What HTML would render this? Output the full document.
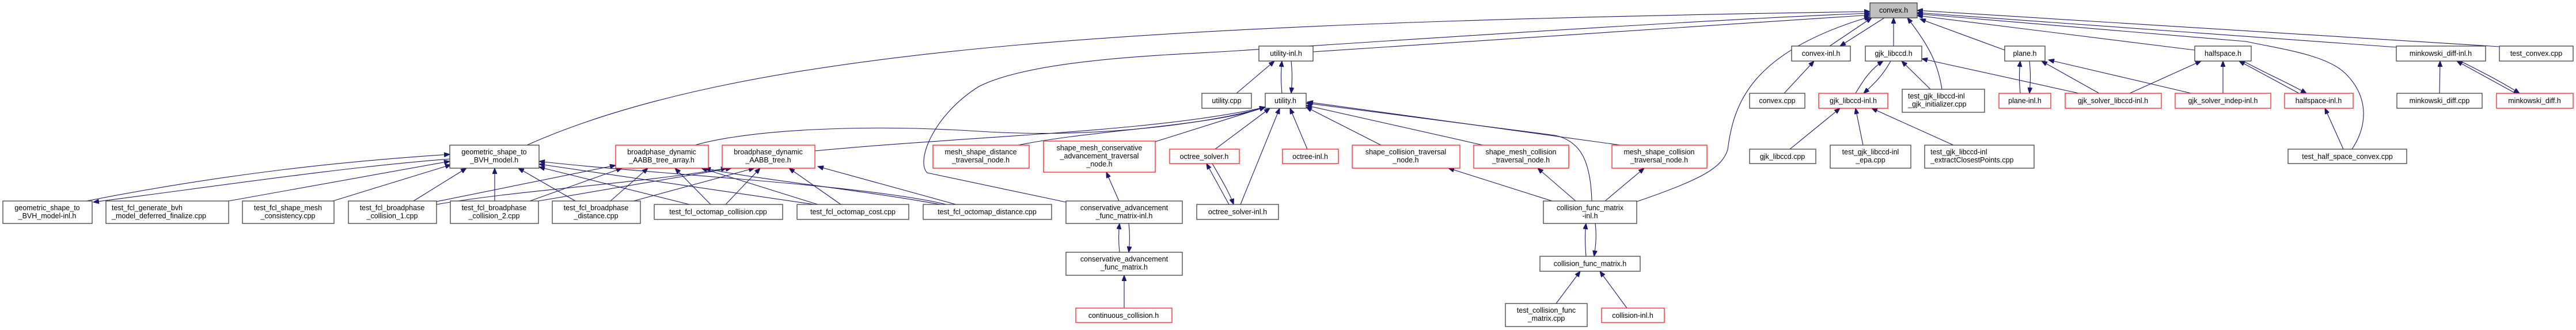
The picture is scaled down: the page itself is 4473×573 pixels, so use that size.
<!DOCTYPE html>
<html><head><meta charset="utf-8"><style>
html,body{margin:0;padding:0;background:#fff;}
svg{display:block;}
text{font-family:"Liberation Sans","DejaVu Sans",sans-serif;font-size:12.5px;fill:#000;}
.b{fill:#fff;stroke:#404040;stroke-width:1.3;}
.r{fill:#fff;stroke:#ff2020;stroke-width:1.3;}
.g{fill:#bfbfbf;stroke:#404040;stroke-width:1.3;}
path{fill:none;stroke:#191970;stroke-width:1.1;marker-end:url(#a);}
</style></head><body>
<svg width="4473" height="573" viewBox="0 0 4473 573" xmlns="http://www.w3.org/2000/svg">
<defs><marker id="a" markerUnits="userSpaceOnUse" markerWidth="11" markerHeight="8" refX="10" refY="4" orient="auto"><path d="M0,0 L10,4 L0,8 z" style="fill:#191970;stroke:#191970;stroke-width:1;marker-end:none"/></marker></defs>

<!-- edges -->
<path d="M150,349 C400,300 600,280 781,268"/>
<path d="M781,276 C600,290 400,320 162,351"/>
<path d="M397,349 L781,280"/>
<path d="M578,349 L783,286"/>
<path d="M718,349 L810,292"/>
<path d="M859,349 L859,292"/>
<path d="M999,349 L900,292"/>
<path d="M1197,355 L936,290"/>
<path d="M1414,355 L936,285"/>
<path d="M1643,355 C1500,320 1100,300 936,280"/>
<path d="M758,350 L1069,287"/>
<path d="M920,349 L1080,292"/>
<path d="M1060,349 L1125,292"/>
<path d="M1234,355 L1172,292"/>
<path d="M1420,355 L1218,292"/>
<path d="M1643,357 C1500,330 1300,310 1224,292"/>
<path d="M758,355 C900,330 1100,320 1262,292"/>
<path d="M935,349 L1270,292"/>
<path d="M1100,349 L1310,292"/>
<path d="M1260,355 L1320,292"/>
<path d="M1460,355 L1370,292"/>
<path d="M1660,355 L1420,289"/>
<path d="M915,252 C1300,80 2000,40 3247,20"/>
<path d="M1207,252 C1300,225 1500,215 1700,228 S2100,215 2197,186"/>
<path d="M1415,262 C1700,235 2000,230 2197,186"/>
<path d="M1768,252 C1900,225 2100,220 2197,186"/>
<path d="M2006,246 L2197,186"/>
<path d="M2110,259 L2205,188"/>
<path d="M2154,355 L2222,188"/>
<path d="M2270,259 L2240,188"/>
<path d="M2398,252 L2268,186"/>
<path d="M2575,252 L2268,183"/>
<path d="M2764,349 C2762,280 2745,245 2700,235 L2268,179"/>
<path d="M2814,252 L2270,177"/>
<path d="M2695,349 L2515,292"/>
<path d="M2736,349 L2670,292"/>
<path d="M2787,349 L2855,292"/>
<path d="M2842,350 C2960,310 2990,290 3000,260 C3010,180 3040,90 3247,29"/>
<path d="M1851,351 L1610,300 C1590,280 1620,200 1700,150 C1800,100 2050,95 2150,88 C2500,65 3000,32 3247,23"/>
<path d="M2280,90 C2700,60 3000,40 3247,26"/>
<path d="M2147,162 L2213,106"/>
<path d="M2226,162 C2224,140 2224,125 2226,106"/>
<path d="M2242,106 C2244,125 2244,140 2242,162"/>
<path d="M2134,355 L2095,284"/>
<path d="M2105,284 C2120,310 2135,335 2142,355"/>
<path d="M1943,349 L1921,299"/>
<path d="M1944,438 C1942,420 1942,405 1944,388"/>
<path d="M1960,388 C1962,405 1962,420 1960,438"/>
<path d="M1952,535 L1952,478"/>
<path d="M2754,445 C2752,420 2752,405 2754,388"/>
<path d="M2770,388 C2772,405 2772,420 2768,445"/>
<path d="M2702,527 L2744,471"/>
<path d="M2825,535 L2778,471"/>
<path d="M3177,80 L3250,31"/>
<path d="M3272,31 L3195,80"/>
<path d="M3288,80 L3288,31"/>
<path d="M3372,155 C3365,110 3350,80 3312,31"/>
<path d="M3481,87 L3334,33"/>
<path d="M3811,87 L3329,27"/>
<path d="M4161,82 L3329,22"/>
<path d="M4340,81 L3329,18"/>
<path d="M4084,259 C4110,220 4115,170 4073,128 C4040,95 3960,85 3900,72 L3329,24"/>
<path d="M3098,162 L3150,106"/>
<path d="M3222,162 C3235,140 3248,120 3270,106"/>
<path d="M3283,106 C3270,130 3255,145 3236,162"/>
<path d="M3352,155 L3302,106"/>
<path d="M3610,162 L3337,102"/>
<path d="M3508,162 C3506,140 3506,125 3508,106"/>
<path d="M3524,106 C3526,125 3526,140 3524,162"/>
<path d="M3645,162 L3545,106"/>
<path d="M3805,162 L3557,104"/>
<path d="M3698,162 L3822,106"/>
<path d="M3860,162 L3860,106"/>
<path d="M3992,162 L3888,106"/>
<path d="M3895,106 C3940,130 3975,145 4005,162"/>
<path d="M4069,259 L4037,188"/>
<path d="M4236,162 L4237,106"/>
<path d="M4368,162 L4266,106"/>
<path d="M4272,106 C4300,120 4340,140 4375,162"/>
<path d="M3108,259 L3195,188"/>
<path d="M3235,252 L3222,188"/>
<path d="M3392,252 L3250,188"/>

<!-- nodes -->
<g text-anchor="middle">
<rect class="b" x="5" y="349" width="155" height="39"/><text x="82" y="365">geometric_shape_to</text><text x="82" y="379">_BVH_model-inl.h</text>
<rect class="b" x="184" y="349" width="213" height="39"/><text x="194" y="365" text-anchor="start">test_fcl_generate_bvh</text><text x="194" y="379" text-anchor="start">_model_deferred_finalize.cpp</text>
<rect class="b" x="421" y="349" width="159" height="39"/><text x="500" y="365">test_fcl_shape_mesh</text><text x="500" y="379">_consistency.cpp</text>
<rect class="b" x="605" y="349" width="153" height="39"/><text x="681" y="365">test_fcl_broadphase</text><text x="681" y="379">_collision_1.cpp</text>
<rect class="b" x="781" y="252" width="155" height="40"/><text x="858" y="268">geometric_shape_to</text><text x="858" y="282">_BVH_model.h</text>
<rect class="r" x="1069" y="252" width="161" height="40"/><text x="1149" y="268">broadphase_dynamic</text><text x="1149" y="282">_AABB_tree_array.h</text>
<rect class="r" x="1254" y="252" width="161" height="40"/><text x="1334" y="268">broadphase_dynamic</text><text x="1334" y="282">_AABB_tree.h</text>
<rect class="b" x="782" y="349" width="153" height="39"/><text x="858" y="365">test_fcl_broadphase</text><text x="858" y="379">_collision_2.cpp</text>
<rect class="b" x="959" y="349" width="153" height="39"/><text x="1035" y="365">test_fcl_broadphase</text><text x="1035" y="379">_distance.cpp</text>
<rect class="b" x="1136" y="355" width="223" height="26"/><text x="1247" y="372">test_fcl_octomap_collision.cpp</text>
<rect class="b" x="1384" y="355" width="194" height="26"/><text x="1481" y="372">test_fcl_octomap_cost.cpp</text>
<rect class="b" x="1603" y="355" width="223" height="26"/><text x="1714" y="372">test_fcl_octomap_distance.cpp</text>
<rect class="r" x="1620" y="252" width="167" height="40"/><text x="1703" y="268">mesh_shape_distance</text><text x="1703" y="282">_traversal_node.h</text>
<rect class="r" x="1812" y="245" width="194" height="54"/><text x="1909" y="261">shape_mesh_conservative</text><text x="1909" y="275">_advancement_traversal</text><text x="1909" y="289">_node.h</text>
<rect class="r" x="2031" y="259" width="121" height="25"/><text x="2091" y="276">octree_solver.h</text>
<rect class="r" x="2227" y="259" width="97" height="25"/><text x="2275" y="276">octree-inl.h</text>
<rect class="b" x="2087" y="162" width="86" height="26"/><text x="2130" y="179">utility.cpp</text>
<rect class="b" x="2197" y="162" width="71" height="26"/><text x="2232" y="179">utility.h</text>
<rect class="b" x="2186" y="80" width="94" height="26"/><text x="2233" y="97">utility-inl.h</text>
<rect class="b" x="1851" y="349" width="202" height="39"/><text x="1952" y="365">conservative_advancement</text><text x="1952" y="379">_func_matrix-inl.h</text>
<rect class="b" x="2078" y="355" width="142" height="26"/><text x="2149" y="372">octree_solver-inl.h</text>
<rect class="b" x="1851" y="438" width="202" height="40"/><text x="1952" y="454">conservative_advancement</text><text x="1952" y="468">_func_matrix.h</text>
<rect class="r" x="1868" y="535" width="167" height="25"/><text x="1951" y="552">continuous_collision.h</text>
<rect class="r" x="2348" y="252" width="187" height="40"/><text x="2441" y="268">shape_collision_traversal</text><text x="2441" y="282">_node.h</text>
<rect class="r" x="2559" y="252" width="165" height="40"/><text x="2641" y="268">shape_mesh_collision</text><text x="2641" y="282">_traversal_node.h</text>
<rect class="r" x="2799" y="252" width="165" height="40"/><text x="2881" y="268">mesh_shape_collision</text><text x="2881" y="282">_traversal_node.h</text>
<rect class="b" x="2680" y="349" width="162" height="39"/><text x="2761" y="365">collision_func_matrix</text><text x="2761" y="379">-inl.h</text>
<rect class="b" x="2674" y="445" width="174" height="26"/><text x="2761" y="462">collision_func_matrix.h</text>
<rect class="b" x="2614" y="527" width="142" height="40"/><text x="2685" y="543">test_collision_func</text><text x="2685" y="557">_matrix.cpp</text>
<rect class="r" x="2781" y="535" width="109" height="25"/><text x="2835" y="552">collision-inl.h</text>
<rect class="g" x="3247" y="5" width="82" height="26"/><text x="3288" y="22">convex.h</text>
<rect class="b" x="3111" y="80" width="102" height="26"/><text x="3162" y="97">convex-inl.h</text>
<rect class="b" x="3239" y="80" width="98" height="26"/><text x="3288" y="97">gjk_libccd.h</text>
<rect class="b" x="3481" y="80" width="70" height="26"/><text x="3516" y="97">plane.h</text>
<rect class="b" x="3038" y="162" width="96" height="26"/><text x="3086" y="179">convex.cpp</text>
<rect class="r" x="3158" y="162" width="120" height="26"/><text x="3218" y="179">gjk_libccd-inl.h</text>
<rect class="b" x="3303" y="155" width="143" height="40"/><text x="3313" y="171" text-anchor="start">test_gjk_libccd-inl</text><text x="3313" y="185" text-anchor="start">_gjk_initializer.cpp</text>
<rect class="r" x="3471" y="162" width="90" height="26"/><text x="3516" y="179">plane-inl.h</text>
<rect class="r" x="3586" y="162" width="167" height="26"/><text x="3669" y="179">gjk_solver_libccd-inl.h</text>
<rect class="b" x="3038" y="259" width="115" height="25"/><text x="3095" y="276">gjk_libccd.cpp</text>
<rect class="b" x="3178" y="252" width="140" height="40"/><text x="3248" y="268">test_gjk_libccd-inl</text><text x="3248" y="282">_epa.cpp</text>
<rect class="b" x="3342" y="252" width="190" height="40"/><text x="3352" y="268" text-anchor="start">test_gjk_libccd-inl</text><text x="3352" y="282" text-anchor="start">_extractClosestPoints.cpp</text>
<rect class="b" x="3811" y="80" width="98" height="26"/><text x="3860" y="97">halfspace.h</text>
<rect class="b" x="4161" y="80" width="155" height="26"/><text x="4238" y="97">minkowski_diff-inl.h</text>
<rect class="b" x="4340" y="80" width="128" height="26"/><text x="4404" y="97">test_convex.cpp</text>
<rect class="r" x="3777" y="162" width="166" height="26"/><text x="3860" y="179">gjk_solver_indep-inl.h</text>
<rect class="r" x="3967" y="162" width="119" height="26"/><text x="4026" y="179">halfspace-inl.h</text>
<rect class="b" x="4162" y="162" width="148" height="26"/><text x="4236" y="179">minkowski_diff.cpp</text>
<rect class="r" x="4335" y="162" width="133" height="26"/><text x="4401" y="179">minkowski_diff.h</text>
<rect class="b" x="3973" y="259" width="206" height="25"/><text x="4076" y="276">test_half_space_convex.cpp</text>
</g>
</svg>
</body></html>
